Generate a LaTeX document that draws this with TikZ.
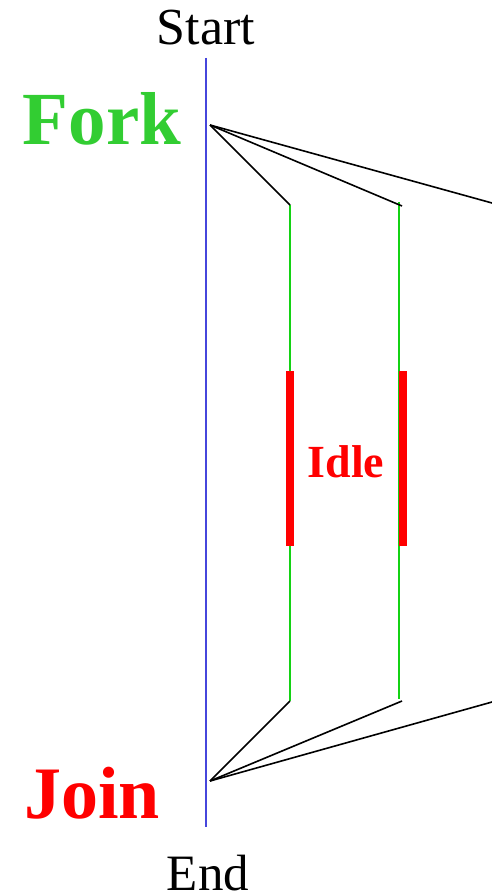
\documentclass[tikz,border=0pt]{standalone}
\usepackage{fontspec}
\setmainfont{Liberation Serif}
\definecolor{forkgreen}{RGB}{50,205,50}
\definecolor{linegreen}{RGB}{20,210,20}
\definecolor{axisblue}{RGB}{70,70,220}
\begin{document}
\begin{tikzpicture}[x=1pt,y=-1pt,
  lbl/.style={anchor=base,inner sep=0pt,outer sep=0pt},
  conn/.style={black,line width=1.6pt},
  thread/.style={linegreen,line width=1.4pt},
  idlebar/.style={red,line width=8pt},
  axis/.style={axisblue,line width=1.4pt}]
\useasboundingbox (0,0) rectangle (492,896);
% labels
\node[lbl,font=\fontsize{52}{60}\selectfont] (start) at (206,45) {Start};
\node[lbl,font=\fontsize{51}{60}\selectfont] (end) at (208,890) {End};
\node[lbl,font=\fontsize{75}{88}\selectfont\bfseries,text=forkgreen] (fork) at (102,145) {Fork};
\node[lbl,font=\fontsize{74}{88}\selectfont\bfseries,text=red] (join) at (92,818) {Join};
\node[lbl,font=\fontsize{46}{55}\selectfont\bfseries,text=red] (idle) at (346,477) {Idle};
% axis
\coordinate (atop) at (206,58);
\coordinate (abot) at (206,827);
\draw[axis] (atop) -- (abot);
% fork/join points
\coordinate (f) at (210,125);
\coordinate (j) at (210,781);
% thread 1
\coordinate (t1a) at (290,205);
\coordinate (t1b) at (290,701);
\coordinate (i1a) at (290,371);
\coordinate (i1b) at (290,546);
% thread 2
\coordinate (t2a) at (399,202);
\coordinate (t2b) at (399,699);
\coordinate (k2a) at (402,206);
\coordinate (k2b) at (402,701);
\coordinate (i2a) at (402.5,371);
\coordinate (i2b) at (402.5,546);
% thread 3 (off page)
\coordinate (t3a) at (492,203);
\coordinate (t3b) at (492,702);
\draw[thread] (t1a) -- (t1b);
\draw[thread] (t2a) -- (t2b);
\draw[idlebar] (i1a) -- (i1b);
\draw[idlebar] (i2a) -- (i2b);
\draw[conn] (f) -- (t1a);
\draw[conn] (f) -- (k2a);
\draw[conn] (f) -- (t3a);
\draw[conn] (j) -- (t1b);
\draw[conn] (j) -- (k2b);
\draw[conn] (j) -- (t3b);
\end{tikzpicture}
\end{document}
